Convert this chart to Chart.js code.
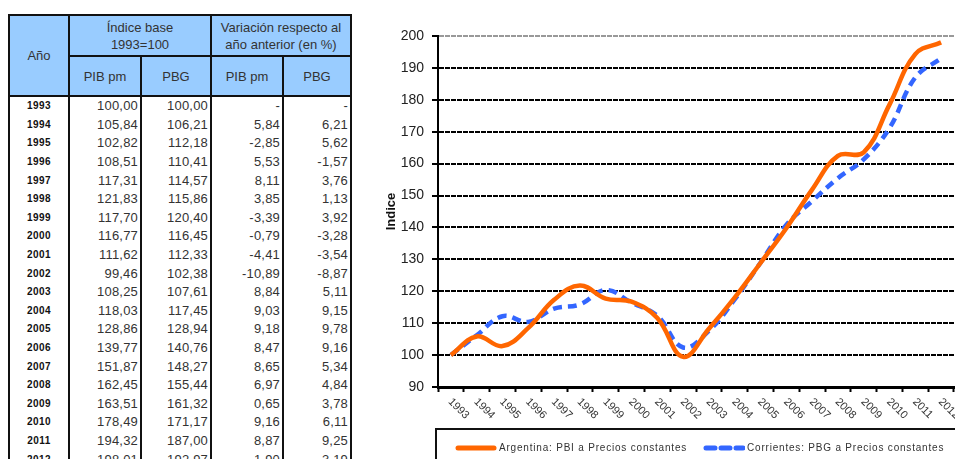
<!DOCTYPE html>
<html>
<head>
<meta charset="utf-8">
<script src="https://cdn.jsdelivr.net/npm/chart.js@4"></script>
<style>
  html, body { margin: 0; padding: 0; width: 955px; height: 459px; overflow: hidden; background: #fff; font-family: "Liberation Sans", Arial, sans-serif; }
  #tabla { position: absolute; left: 8px; top: 14px; border-collapse: collapse; color: #222; }
  #tabla th { background: #99ccff; border: 2px solid #111; font-weight: normal; font-size: 13px; line-height: 17px; color: #333; padding: 0; text-align: center; }
  #tabla td { border-left: 2px solid #111; border-right: 2px solid #111; font-size: 13px; height: 18.6px; padding: 0 2px 0 0; text-align: right; letter-spacing: 0.2px; color: #333; line-height: 18px; }
  #tabla td.anio { text-align: center; font-weight: bold; font-size: 10px; letter-spacing: 0.4px; color: #111; padding: 0; }
  #grafico-box { position: absolute; left: 370px; top: 0; width: 585px; height: 459px; }
  #leyenda { position: absolute; left: 435px; top: 428px; width: 540px; height: 40px; border: 2px solid #111; box-sizing: border-box; font-size: 10px; letter-spacing: 0.8px; color: #333; }
  #leyenda .item { position: absolute; top: 12px; white-space: nowrap; }
  #leyenda .muestra { display: inline-block; width: 42px; vertical-align: middle; margin-right: 2px; }
</style>
</head>
<body>

<table id="tabla">
  <thead>
    <tr>
      <th rowspan="2" style="width:58px">Año</th>
      <th colspan="2" style="height:39px">Índice base<br>1993=100</th>
      <th colspan="2">Variación respecto al<br>año anterior (en %)</th>
    </tr>
    <tr>
      <th style="width:70px;height:38px">PIB pm</th>
      <th style="width:68px">PBG</th>
      <th style="width:70px">PIB pm</th>
      <th style="width:66px">PBG</th>
    </tr>
  </thead>
  <tbody id="cuerpo"></tbody>
</table>

<div id="grafico-box"><canvas id="grafico"></canvas></div>

<div id="leyenda">
  <div class="item" style="left:18px"><svg class="muestra" width="42" height="6"><line x1="3" y1="3" x2="39" y2="3" stroke="rgb(255,102,0)" stroke-width="5" stroke-linecap="round"/></svg>Argentina: PBI a Precios constantes</div>
  <div class="item" style="left:266px"><svg class="muestra" width="42" height="6"><line x1="3" y1="3" x2="40" y2="3" stroke="rgb(51,102,255)" stroke-width="5" stroke-linecap="round" stroke-dasharray="9,6"/></svg>Corrientes: PBG a Precios constantes</div>
</div>

<script>
var anios = ["1993", "1994", "1995", "1996", "1997", "1998", "1999", "2000", "2001", "2002",
             "2003", "2004", "2005", "2006", "2007", "2008", "2009", "2010", "2011", "2012"];

// indice base 1993=100
var pibPm = [100.00, 105.84, 102.82, 108.51, 117.31, 121.83, 117.70, 116.77, 111.62, 99.46,
             108.25, 118.03, 128.86, 139.77, 151.87, 162.45, 163.51, 178.49, 194.32, 198.01];
var pbg = [100.00, 106.21, 112.18, 110.41, 114.57, 115.86, 120.40, 116.45, 112.33, 102.38,
           107.61, 117.45, 128.94, 140.76, 148.27, 155.44, 161.32, 171.17, 187.00, 192.97];

// variacion respecto al año anterior (en %)
var varPib = [null, 5.84, -2.85, 5.53, 8.11, 3.85, -3.39, -0.79, -4.41, -10.89,
              8.84, 9.03, 9.18, 8.47, 8.65, 6.97, 0.65, 9.16, 8.87, 1.90];
var varPbg = [null, 6.21, 5.62, -1.57, 3.76, 1.13, 3.92, -3.28, -3.54, -8.87,
              5.11, 9.15, 9.78, 9.16, 5.34, 4.84, 3.78, 6.11, 9.25, 3.19];

var escalaY = { min: 90, max: 200, paso: 10 };

function formato(v) {
    if (v === null) return "-";
    return v.toFixed(2).replace(".", ",");
}

var cuerpo = document.getElementById("cuerpo");
for (var i = 0; i < anios.length; i++) {
    var fila = document.createElement("tr");
    fila.innerHTML = '<td class="anio">' + anios[i] + '</td>' +
        '<td>' + formato(pibPm[i]) + '</td>' +
        '<td>' + formato(pbg[i]) + '</td>' +
        '<td>' + formato(varPib[i]) + '</td>' +
        '<td>' + formato(varPbg[i]) + '</td>';
    cuerpo.appendChild(fila);
}

// etiquetas del eje x giradas hacia abajo, como en excel
var etiquetasGiradas = {
    id: 'etiquetasGiradas',
    afterDraw: function (chart) {
        var ctx = chart.ctx;
        var escala = chart.scales.x;
        ctx.save();
        ctx.font = '11px "Liberation Sans", Arial, sans-serif';
        ctx.fillStyle = '#333';
        ctx.textAlign = 'left';
        ctx.textBaseline = 'middle';
        for (var i = 0; i < chart.data.labels.length; i++) {
            var x = escala.getPixelForTick(i);
            ctx.save();
            ctx.translate(x - 1, escala.top + 13);
            ctx.rotate(Math.PI / 4);
            ctx.fillText(chart.data.labels[i], 0, 0);
            ctx.restore();
        }
        ctx.restore();
    }
};

var ctx = document.getElementById('grafico').getContext('2d');
new Chart(ctx, {
    type: 'line',
    data: {
        labels: anios,
        datasets: [{
            label: 'Argentina: PBI a Precios constantes',
            data: pibPm,
            borderColor: 'rgb(255, 102, 0)',
            borderWidth: 4.5,
            tension: 0.4,
            pointRadius: 0,
            fill: false
        }, {
            label: 'Corrientes: PBG a Precios constantes',
            data: pbg,
            borderColor: 'rgb(51, 102, 255)',
            borderWidth: 4.5,
            borderDash: [9, 6],
            tension: 0.4,
            pointRadius: 0,
            fill: false
        }]
    },
    options: {
        responsive: true,
        maintainAspectRatio: false,
        animation: false,
        layout: { padding: { top: 36, right: 1, bottom: 32, left: 0 } },
        plugins: {
            legend: { display: false },
            tooltip: { enabled: false }
        },
        scales: {
            x: {
                offset: true,
                grid: { offset: true, drawOnChartArea: false, drawTicks: true, tickLength: 5, tickColor: '#000', tickWidth: 2 },
                border: { color: '#000', width: 3 },
                ticks: { display: false },
                afterFit: function (s) { s.height = 40; }
            },
            y: {
                min: escalaY.min,
                max: escalaY.max,
                ticks: {
                    stepSize: escalaY.paso,
                    color: '#222',
                    padding: 8,
                    font: { family: '"Liberation Sans", Arial, sans-serif', size: 14 }
                },
                grid: {
                    color: function (c) { return c.tick && c.tick.value === 200 ? '#999' : '#000'; },
                    lineWidth: 2,
                    tickLength: 6,
                    tickColor: '#000'
                },
                border: { color: '#000', width: 2, dash: [5, 1] },
                title: {
                    display: true,
                    text: 'Indice',
                    color: '#111',
                    padding: { top: 14, bottom: 0 },
                    font: { family: '"Liberation Sans", Arial, sans-serif', size: 13, weight: 'bold' }
                },
                afterFit: function (s) { s.width = 68; }
            }
        }
    },
    plugins: [etiquetasGiradas]
});
</script>
</body>
</html>
